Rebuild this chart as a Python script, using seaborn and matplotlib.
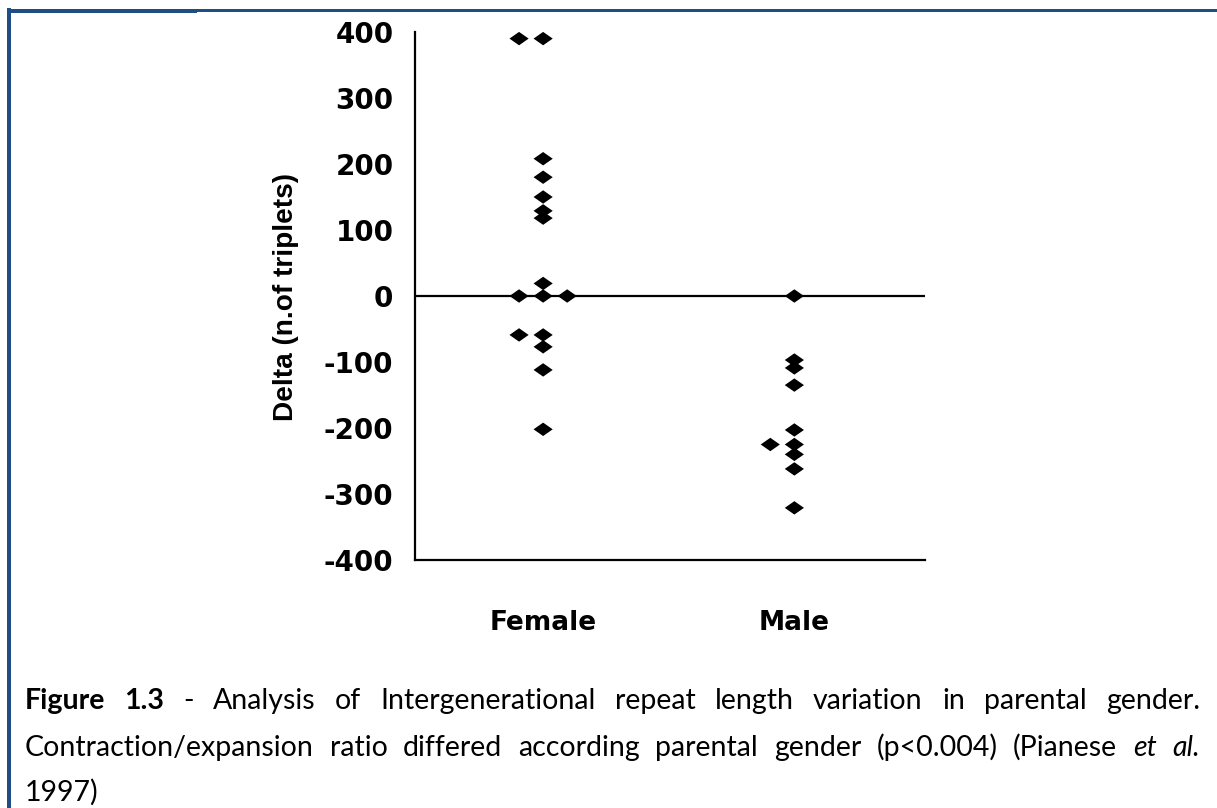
import matplotlib
matplotlib.use("Agg")
import matplotlib.pyplot as plt
import seaborn as sns
import pandas as pd
from matplotlib.patches import Rectangle

# ---------------- data ----------------
categories = ["Female", "Male"]
female_delta = [390, 390, 208, 180, 150, 129, 118, 19, 0, 0, 0, -59, -59, -77, -112, -202]
male_delta = [0, -97, -109, -135, -203, -225, -225, -240, -262, -321]
y_ticks = [-400, -300, -200, -100, 0, 100, 200, 300, 400]
y_label = "Delta (n.of triplets)"

caption_line1 = [("Figure", "bold", "normal"), ("1.3", "bold", "normal"), ("-", "normal", "normal"),
                 ("Analysis", "normal", "normal"), ("of", "normal", "normal"),
                 ("Intergenerational", "normal", "normal"), ("repeat", "normal", "normal"),
                 ("length", "normal", "normal"), ("variation", "normal", "normal"),
                 ("in", "normal", "normal"), ("parental", "normal", "normal"),
                 ("gender.", "normal", "normal")]
caption_line2 = [("Contraction/expansion", "normal", "normal"), ("ratio", "normal", "normal"),
                 ("differed", "normal", "normal"), ("according", "normal", "normal"),
                 ("parental", "normal", "normal"), ("gender", "normal", "normal"),
                 ("(p<0.004)", "normal", "normal"), ("(Pianese", "normal", "normal"),
                 ("et", "normal", "italic"), ("al.", "normal", "italic")]
caption_line3 = [("1997)", "normal", "normal")]

# ---------------- setup ----------------
W, H = 1217, 808
sns.set_style("white")
plt.rcParams["font.family"] = ["DejaVu Sans"]

fig = plt.figure(figsize=(W / 100, H / 100), dpi=100)
fig.patch.set_facecolor("white")

# axes placement (pixels): x 415..925, y 32..560
ax_pos = [415 / W, 1 - 560 / H, 510 / W, 528 / H]
ax = fig.add_axes(ax_pos)
ax.set_facecolor("white")

df = pd.DataFrame({
    "Parent": [categories[0]] * len(female_delta) + [categories[1]] * len(male_delta),
    "Delta": female_delta + male_delta,
})

diamond = [(-1, 0), (0, 0.7), (1, 0), (0, -0.7), (-1, 0)]
sns.swarmplot(data=df, x="Parent", y="Delta", order=categories, color="black",
              marker=diamond, size=16.5, linewidth=0, ax=ax, zorder=3)

ax.set_xlim(-0.51, 1.52)
ax.set_ylim(-400, 400)

# compute the swarm layout with a vertically stretched axis (points only dodge
# when they really sit side by side), then freeze it and restore the axis
ax.set_position([ax_pos[0], ax_pos[1], ax_pos[2], ax_pos[3] * 3.6])
fig.canvas.draw()
for coll in ax.collections:
    if "draw" in vars(coll):
        del coll.draw
    coll.set_sizes([13.8 ** 2] * len(coll.get_offsets()))
ax.set_position(ax_pos)

ax.axhline(0, color="black", lw=1.6, zorder=1)
ax.set_yticks(y_ticks)
ax.set_yticklabels([str(v) for v in y_ticks])
ax.set_xlabel("")
ax.set_ylabel("")
for s in ["top", "right"]:
    ax.spines[s].set_visible(False)
for s in ["left", "bottom"]:
    ax.spines[s].set_color("black")
    ax.spines[s].set_linewidth(1.6)
ax.tick_params(axis="y", direction="inout", length=17, width=1.4, pad=7,
               labelsize=20, colors="black")
ax.tick_params(axis="x", length=0, pad=36, labelsize=19, colors="black")
for lab in ax.get_yticklabels() + ax.get_xticklabels():
    lab.set_fontweight("bold")
    lab.set_family("DejaVu Sans")

# y label
yl = fig.text(286 / W, 1 - 297 / H, y_label, rotation=90, ha="center", va="center",
              fontsize=20, fontweight="bold", family="Liberation Sans", color="black")
r = fig.canvas.get_renderer()
h = yl.get_window_extent(r).height
yl.set_fontsize(20 * 247 / h)

# ---------------- caption (justified) ----------------
cap_family = "Lato"
cap_size = 20.5


def place_line(tokens, y_base, x0, x1, justify, size):
    texts = [fig.text(0, 1 - y_base / H, w, fontsize=size, family=cap_family,
                      fontweight=wt, fontstyle=st, va="baseline", ha="left", color="black")
             for w, wt, st in tokens]
    rr = fig.canvas.get_renderer()
    widths = [t.get_window_extent(rr).width for t in texts]
    if justify and len(texts) > 1:
        gap = (x1 - x0 - sum(widths)) / (len(texts) - 1)
    else:
        gap = 0.25 * size * 100 / 72
    x = x0
    for t, w in zip(texts, widths):
        t.set_x(x / W)
        x += w + gap
    return texts


probe = fig.text(0, 0, " ".join(w for w, _, _ in caption_line2), fontsize=cap_size, family=cap_family)
pw = probe.get_window_extent(fig.canvas.get_renderer()).width
probe.remove()
if pw > 1160:
    cap_size = cap_size * 1160 / pw

place_line(caption_line1, 709, 25, 1200, True, cap_size)
place_line(caption_line2, 756, 25, 1200, True, cap_size)
place_line(caption_line3, 801, 25, 1200, False, cap_size)

# ---------------- blue frame ----------------
blue = "#1F4E85"
fig.add_artist(Rectangle((7 / W, 0), 4 / W, 1 - 8 / H, transform=fig.transFigure,
                         facecolor=blue, edgecolor="none"))
fig.add_artist(Rectangle((7 / W, 1 - 13 / H), 190 / W, 4 / H, transform=fig.transFigure,
                         facecolor=blue, edgecolor="none"))
fig.add_artist(Rectangle((197 / W, 1 - 12 / H), (W - 197) / W, 3 / H, transform=fig.transFigure,
                         facecolor=blue, edgecolor="none"))

fig.savefig("out.png", dpi=100, facecolor="white")
